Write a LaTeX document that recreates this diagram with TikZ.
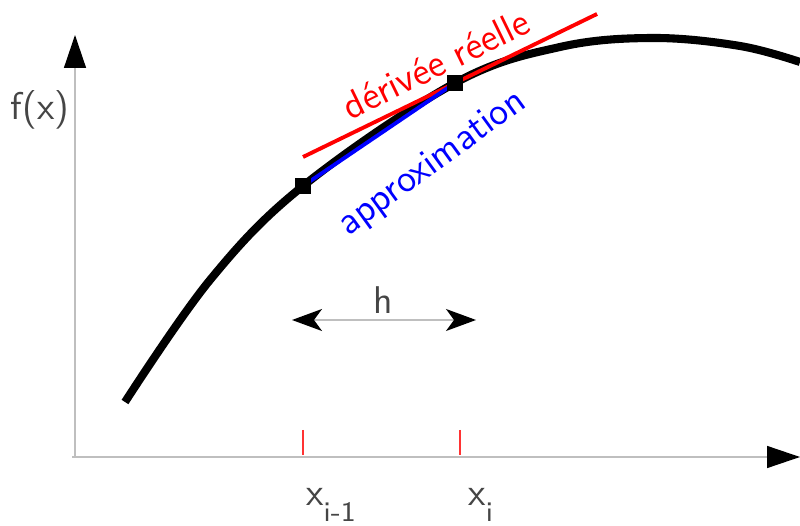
\documentclass[tikz,border=0pt]{standalone}
\usepackage{tikz}
\usetikzlibrary{positioning,arrows.meta,calc}
\usepackage{xcolor}
\definecolor{axisgray}{gray}{0.75}
\definecolor{textgray}{gray}{0.27}

\begin{document}
\begin{tikzpicture}[x=0.1mm,y=-0.1mm,font=\sffamily\fontsize{11}{13}\selectfont,
  axis/.style={draw=axisgray,line width=0.4pt,-{Triangle[length=3.3mm,width=2.2mm,fill=black,color=black]}},
  pt/.style={fill=black,minimum size=1.6mm,inner sep=0pt},
  lbl/.style={text=textgray}]
\useasboundingbox (0,0) rectangle (800,526);
\coordinate (o) at (75,457);
\coordinate (ytop) at (75,35);
\coordinate (xend) at (800,457);
\draw[axis] (72,457) -- (xend);
\draw[axis] (75,457) -- (ytop);
\node[lbl] (fx) at (40,110) {f(x)};
% function
\draw[line width=2.3pt] plot[smooth,tension=0.6] coordinates
  {(125,402) (210,280) (303,186) (455,83) (560,47) (653,38) (740,46) (800,62)};
% tangent and chord
\coordinate (t0) at (303,157);
\coordinate (t1) at (597,14);
\node[pt] (p0) at (303,186) {};
\node[pt] (p1) at (455,83) {};
\draw[red,line width=1.1pt] (t0) -- (t1);
\draw[blue,line width=1.1pt] (p0.center) -- (p1.center);
\node[pt] at (p0) {};
\node[pt] at (p1) {};
\node[red,rotate=26] (der) at (436,64) {dérivée réelle};
\node[blue,rotate=36] (app) at (433,164) {approximation};
% step h
\coordinate (ha) at (292,320);
\coordinate (hb) at (476,320);
\draw[axisgray,line width=0.4pt,{Stealth[length=3mm,width=2.2mm,inset=0.8mm,color=black]}-{Stealth[length=3mm,width=2.2mm,inset=0.8mm,color=black]}] (ha) -- (hb);
\node[lbl] (h) at (383,300) {h};
% ticks
\draw[red!80,line width=0.4pt] (303,430) -- (303,455);
\draw[red!80,line width=0.4pt] (460,430) -- (460,455);
\node[lbl,anchor=base west] (xim) at (294,506) {x\raisebox{-0.9ex}{\fontsize{8}{9}\selectfont i-1}};
\node[lbl,anchor=base west] (xi) at (456,506) {x\raisebox{-0.9ex}{\fontsize{8}{9}\selectfont i}};
\end{tikzpicture}
\end{document}
